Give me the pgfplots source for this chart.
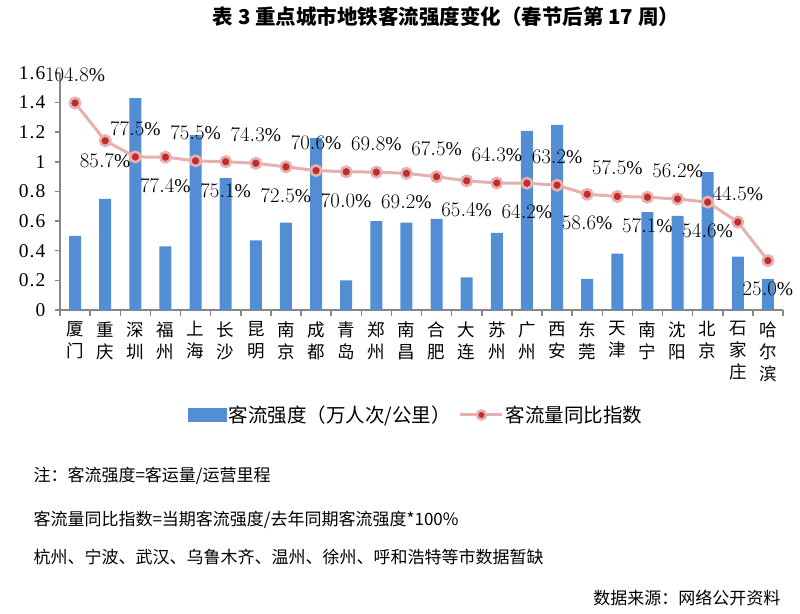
\documentclass[border=0pt]{standalone}
\usepackage{fontspec}
\setmainfont{Liberation Serif}
\newfontfamily\cjk{Noto Sans CJK SC}
\newfontfamily\numf[LetterSpace=6]{Liberation Serif}
\usepackage{pgfplots}
\usepackage{pgfplotstable}
\pgfplotsset{compat=1.18}
\definecolor{barblue}{RGB}{83,142,213}
\definecolor{pinkline}{RGB}{230,176,176}
\definecolor{dotred}{RGB}{192,45,45}
\definecolor{axgray}{RGB}{134,134,134}

\pgfplotstableread{
x val
0 0.50
1 0.75
2 1.43
3 0.43
4 1.18
5 0.89
6 0.47
7 0.59
8 1.16
9 0.20
10 0.60
11 0.59
12 0.615
13 0.22
14 0.52
15 1.21
16 1.25
17 0.21
18 0.38
19 0.66
20 0.635
21 0.93
22 0.36
23 0.21
}\bartable

\pgfplotstableread{
x idx off
0 104.8 28
1 85.7 -20
2 77.5 28
3 77.4 -29
4 75.5 28
5 75.1 -29
6 74.3 28
7 72.5 -29
8 70.6 28
9 70.0 -29
10 69.8 28
11 69.2 -29
12 67.5 28
13 65.4 -29
14 64.3 28
15 64.2 -29
16 63.2 28
17 58.6 -29
18 57.5 28
19 57.1 -29
20 56.2 28
21 54.6 -29
22 44.5 28
23 25.0 -28
}\idxtable

\begin{document}
\begin{tikzpicture}
\path[use as bounding box] (0pt,0pt) rectangle (800pt,613pt);

\node[font=\cjk\bfseries\fontsize{20.5}{22}\selectfont] at (446pt,596pt) {表 3 重点城市地铁客流强度变化（春节后第 17 周）};

\begin{axis}[
  at={(60pt,303pt)}, anchor=south west,
  scale only axis, width=723pt, height=237pt,
  xmin=-0.5, xmax=23.5, ymin=0, ymax=1.6,
  axis lines*=left,
  axis line style={axgray, line width=1.5pt},
  every tick/.style={axgray, line width=1.5pt},
  tick align=outside,
  major tick length=5pt, minor tick length=6pt,
  xtick={0,...,23},
  major x tick style={draw=none},
  minor xtick={-0.5,0.5,...,23.5},
  xticklabels={厦\\门,重\\庆,深\\圳,福\\州,上\\海,长\\沙,昆\\明,南\\京,成\\都,青\\岛,郑\\州,南\\昌,合\\肥,大\\连,苏\\州,广\\州,西\\安,东\\莞,天\\津,南\\宁,沈\\阳,北\\京,石\\家\\庄,哈\\尔\\滨},
  xticklabel style={font=\cjk\fontsize{17.5}{22}\selectfont, align=center, anchor=north, text=black, yshift=-3pt},
  ytick={0,0.2,0.4,0.6,0.8,1,1.2,1.4,1.6},
  yticklabels={0,0.2,0.4,0.6,0.8,1,1.2,1.4,1.6},
  yticklabel style={font=\numf\fontsize{19.5}{20}\selectfont, text=black, xshift=-6pt},
  clip=false,
]
\addplot[ybar, bar width=12pt, fill=barblue, draw=none] table[x=x,y=val] {\bartable};
\end{axis}

\begin{axis}[
  at={(60pt,303pt)}, anchor=south west,
  scale only axis, width=723pt, height=237pt,
  xmin=-0.5, xmax=23.5, ymin=0, ymax=120,
  axis lines=none, ticks=none,
  clip=false,
  legend columns=2,
  legend style={draw=none, fill=none, at={(0.493,-0.443)}, anchor=center,
    font=\cjk\fontsize{19.5}{22}\selectfont,
    /tikz/every even column/.append style={column sep=6pt}},
]
\addlegendimage{legend image code/.code={\fill[barblue] (0pt,-6.5pt) rectangle (38pt,6.5pt);}}
\addlegendentry{客流强度（万人次/公里）}
\addplot[pinkline, line width=3pt,
  mark=*, mark size=5.2pt,
  mark options={fill=dotred, draw=pinkline, line width=2.6pt},
  legend image code/.code={\draw[pinkline, line width=3pt] (0pt,0pt) -- (42pt,0pt);
     \draw[fill=dotred, draw=pinkline, line width=2.5pt] (21pt,0pt) circle (4.5pt);},
  visualization depends on={\thisrow{off} \as \off},
  nodes near coords={\pgfmathprintnumber[fixed,zerofill,precision=1]{\pgfplotspointmeta}\%},
  point meta=y,
  every node near coord/.style={anchor=center, yshift=\off pt, text=black, font=\numf\fontsize{19.5}{20}\selectfont},
] table[x=x,y=idx] {\idxtable};
\addlegendentry{客流量同比指数}
\end{axis}

\node[anchor=west, font=\cjk\fontsize{17}{20}\selectfont] at (30pt,137pt) {注：客流强度=客运量/运营里程};
\node[anchor=west, font=\cjk\fontsize{17}{20}\selectfont] at (30pt,93pt) {客流量同比指数=当期客流强度/去年同期客流强度*100\%};
\node[anchor=west, font=\cjk\fontsize{17}{20}\selectfont] at (30pt,56pt) {杭州、宁波、武汉、乌鲁木齐、温州、徐州、呼和浩特等市数据暂缺};
\node[anchor=east, font=\cjk\fontsize{17}{20}\selectfont] at (784pt,15pt) {数据来源：网络公开资料};
\end{tikzpicture}
\end{document}
